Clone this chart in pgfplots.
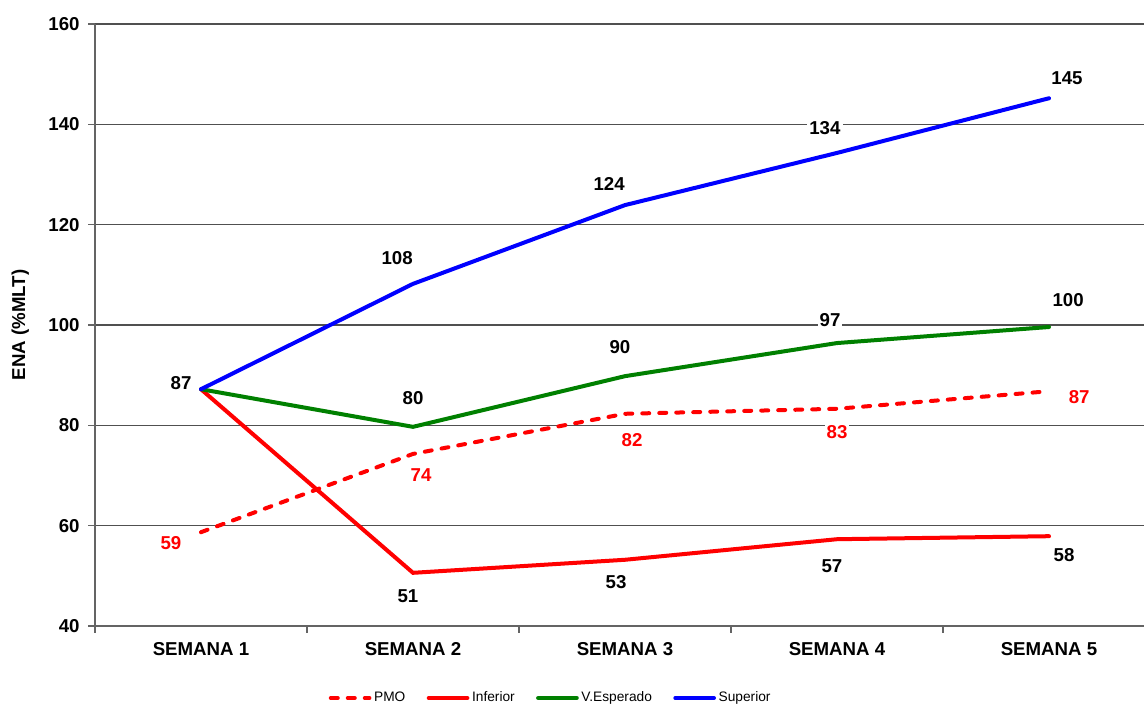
\documentclass[border=0pt]{standalone}
\usepackage{fontspec}
\setmainfont{Liberation Sans}
\usepackage{pgfplots}
\pgfplotsset{compat=1.18}
\usetikzlibrary{calc}

\definecolor{gridgray}{RGB}{80,80,80}
\definecolor{axgray}{RGB}{100,100,100}

\begin{document}
\begin{tikzpicture}
\begin{axis}[
  name=ax,
  scale only axis,
  width=786.75pt, height=451.5pt,
  xmin=-0.5, xmax=4.448,
  ymin=40, ymax=160,
  ytick={40,60,...,160},
  xtick={0,1,2,3,4},
  xticklabels={SEMANA 1,SEMANA 2,SEMANA 3,SEMANA 4,SEMANA 5},
  minor xtick={-0.5,0.5,1.5,2.5,3.5},
  major x tick style={draw=none},
  tick align=outside,
  major tick length=5pt,
  minor tick length=5pt,
  axis x line*=bottom,
  axis y line*=left,
  axis line style={axgray, line width=1.1pt},
  every tick/.style={axgray, line width=1pt},
  ymajorgrids=true,
  grid style={gridgray, line width=1pt},
  /pgf/number format/assume math mode=true,
  ticklabel style={font=\bfseries\fontsize{14}{16}\selectfont},
  yticklabel style={xshift=-3pt},
  xticklabel style={yshift=-4pt},
  ylabel={ENA (\%MLT)},
  every axis y label/.style={at={(axis description cs:0,0.5)}, xshift=-56pt, rotate=90,
    anchor=center, font=\bfseries\fontsize{14}{16}\selectfont},
  clip=false,
  legend style={at={(0.4347,-0.1196)}, anchor=center, draw=none, fill=none,
    legend columns=4, font=\fontsize{10.3}{12}\selectfont,
    /tikz/every even column/.append style={column sep=14pt},
    /tikz/every odd column/.append style={column sep=0pt}},
  legend image code/.code={\draw[#1] (0pt,0pt) -- (29pt,0pt);},
]
% data labels (white background, over the grid)
\begin{scope}[every node/.style={fill=white, inner sep=1.5pt, font=\bfseries\fontsize{14}{16}\selectfont}]
\node at (axis cs:-0.094,88.4) {87};
\node at (axis cs:0.925,113.35) {108};
\node at (axis cs:1.925,128.1) {124};
\node at (axis cs:2.943,139.3) {134};
\node at (axis cs:4.085,149.2) {145};
\node at (axis cs:1.0,85.4) {80};
\node at (axis cs:1.976,95.6) {90};
\node at (axis cs:2.967,101.0) {97};
\node at (axis cs:4.09,105.0) {100};
\node at (axis cs:0.976,46.0) {51};
\node at (axis cs:1.958,48.8) {53};
\node at (axis cs:2.976,52.0) {57};
\node at (axis cs:4.071,54.15) {58};
\node[text=red] at (axis cs:-0.142,56.5) {59};
\node[text=red] at (axis cs:1.038,70.1) {74};
\node[text=red] at (axis cs:2.033,77.1) {82};
\node[text=red] at (axis cs:3.0,78.7) {83};
\node[text=red] at (axis cs:4.142,85.6) {87};
\end{scope}

\addplot[red, line width=3pt, line cap=round, dash pattern=on 5.25pt off 7.5pt] coordinates
  {(0,58.7)(1,74.3)(2,82.3)(3,83.3)(4,86.8)};
\addlegendentry{PMO}
\addplot[red, line width=3pt, line cap=round] coordinates
  {(0,87.2)(1,50.6)(2,53.2)(3,57.3)(4,57.9)};
\addlegendentry{Inferior}
\addplot[green!50!black, line width=3pt, line cap=round] coordinates
  {(0,87.2)(1,79.7)(2,89.8)(3,96.4)(4,99.6)};
\addlegendentry{V.Esperado}
\addplot[blue, line width=3pt, line cap=round] coordinates
  {(0,87.2)(1,108.2)(2,123.9)(3,134.3)(4,145.2)};
\addlegendentry{Superior}
\end{axis}
\pgfresetboundingbox
\path[use as bounding box] ($(ax.south west)+(-71.25pt,-60.75pt)$) rectangle ($(ax.north east)+(0pt,18pt)$);
\end{tikzpicture}
\end{document}
